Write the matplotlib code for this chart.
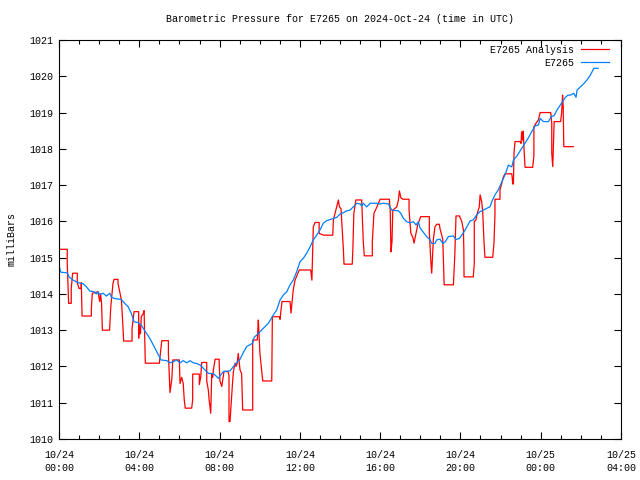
import numpy as np
import matplotlib
matplotlib.use("Agg")
from matplotlib import pyplot as plt
from matplotlib.ticker import MultipleLocator

plt.rcParams['font.family'] = ['Liberation Mono', 'DejaVu Sans Mono']
plt.rcParams['font.size'] = 7.2

# hours since 2024-10-24 00:00 UTC, pressure in mb
obs_t = [0.00, 0.08, 0.41, 0.50, 0.70, 0.95, 1.20, 1.36, 1.53, 1.74, 1.86, 1.94, 2.03, 2.19,
         2.36, 2.53, 2.61, 2.78, 3.10, 3.27, 3.44, 3.60, 3.74, 3.94, 4.10, 4.30, 4.52, 4.70,
         4.87, 5.00, 5.08, 5.37, 5.53, 5.70, 5.86, 6.03, 6.19, 6.36, 6.53, 6.69, 6.86, 7.03,
         7.19, 7.44, 7.69, 7.86, 7.94, 8.02, 8.19, 8.52, 8.68, 8.85, 9.02, 9.18, 9.35, 9.65,
         9.72, 9.93, 10.18, 10.43, 10.68, 10.85, 11.01, 11.18, 11.35, 11.51, 11.67, 11.84,
         12.01, 12.17, 12.34, 12.51, 12.67, 12.84, 13.00, 13.17, 13.34, 13.67, 13.84, 14.00,
         14.17, 14.33, 14.50, 14.66, 14.84, 15.00, 15.08, 15.16, 15.33, 15.50, 15.83, 16.00,
         16.16, 16.41, 16.58, 16.91, 17.03, 17.16, 17.33, 17.49, 17.66, 17.79, 17.90, 17.99,
         18.15, 18.32, 18.49, 18.57, 18.73, 18.82, 18.98, 19.12, 19.23, 19.40, 19.65, 19.78,
         19.95, 20.07, 20.23, 20.48, 20.64, 20.81, 20.98, 21.14, 21.31, 21.47, 21.56, 21.72,
         21.89, 22.06, 22.22, 22.39, 22.56, 22.64, 22.81, 23.04, 23.21, 23.38, 23.55, 23.72,
         23.89, 23.97, 24.14, 24.39, 24.52, 24.66, 24.81, 24.98, 25.15, 25.23, 25.36, 25.48,
         25.65, 25.76, 25.81, 25.98, 26.15, 26.31, 26.48, 26.65, 26.86]
obs_p = [1014.80, 1014.60, 1014.58, 1014.47, 1014.38, 1014.31, 1014.28, 1014.20, 1014.08,
         1014.06, 1014.00, 1014.06, 1013.98, 1014.02, 1013.94, 1014.02, 1013.91, 1013.87,
         1013.85, 1013.74, 1013.65, 1013.47, 1013.23, 1013.21, 1013.14, 1012.96, 1012.78,
         1012.59, 1012.41, 1012.27, 1012.18, 1012.16, 1012.10, 1012.13, 1012.18, 1012.10,
         1012.16, 1012.10, 1012.16, 1012.10, 1012.08, 1012.04, 1011.95, 1011.81, 1011.80,
         1011.72, 1011.67, 1011.74, 1011.86, 1011.88, 1011.99, 1012.10, 1012.20, 1012.38,
         1012.55, 1012.64, 1012.80, 1012.91, 1013.05, 1013.19, 1013.42, 1013.56, 1013.83,
         1013.97, 1014.06, 1014.25, 1014.38, 1014.61, 1014.89, 1014.98, 1015.12, 1015.30,
         1015.49, 1015.62, 1015.76, 1015.95, 1016.02, 1016.08, 1016.11, 1016.20, 1016.24,
         1016.29, 1016.31, 1016.40, 1016.50, 1016.48, 1016.42, 1016.50, 1016.40, 1016.50,
         1016.50, 1016.48, 1016.50, 1016.48, 1016.31, 1016.29, 1016.22, 1016.08, 1015.99,
         1015.96, 1015.99, 1015.90, 1015.99, 1015.82, 1015.70, 1015.58, 1015.49, 1015.39,
         1015.39, 1015.49, 1015.51, 1015.39, 1015.43, 1015.58, 1015.60, 1015.50, 1015.53,
         1015.62, 1015.76, 1016.01, 1016.04, 1016.18, 1016.27, 1016.31, 1016.36, 1016.40,
         1016.54, 1016.73, 1016.87, 1017.09, 1017.28, 1017.55, 1017.50, 1017.69, 1017.80,
         1018.00, 1018.15, 1018.30, 1018.47, 1018.63, 1018.66, 1018.84, 1018.75, 1018.75,
         1018.89, 1018.91, 1019.07, 1019.21, 1019.35, 1019.42, 1019.48, 1019.48, 1019.53,
         1019.42, 1019.62, 1019.71, 1019.80, 1019.90, 1020.04, 1020.22, 1020.22]

ana_t = [0.00, 0.41, 0.41, 0.48, 0.61, 0.61, 0.68, 0.91, 0.91, 1.00, 1.11, 1.11, 1.15, 1.61,
         1.61, 1.66, 1.94, 2.03, 2.07, 2.12, 2.16, 2.52, 2.58, 2.69, 2.74, 2.94, 2.94, 3.11,
         3.19, 3.22, 3.64, 3.64, 3.74, 3.97, 3.97, 4.00, 4.06, 4.10, 4.19, 4.24, 4.30, 5.00,
         5.12, 5.45, 5.45, 5.50, 5.53, 5.62, 5.67, 6.00, 6.00, 6.03, 6.11, 6.19, 6.24, 6.29,
         6.61, 6.66, 6.66, 6.99, 6.99, 7.06, 7.11, 7.36, 7.36, 7.44, 7.48, 7.56, 7.61, 7.66,
         7.69, 7.78, 7.98, 7.98, 8.02, 8.11, 8.22, 8.42, 8.47, 8.47, 8.52, 8.64, 8.69, 8.77,
         8.82, 8.88, 8.93, 9.02, 9.10, 9.15, 9.65, 9.65, 9.88, 9.93, 9.96, 10.01, 10.15,
         10.60, 10.63, 11.01, 11.01, 11.11, 11.51, 11.56, 11.67, 11.76, 11.97, 12.54, 12.60,
         12.67, 12.76, 12.96, 12.96, 13.17, 13.64, 13.67, 13.92, 13.97, 14.05, 14.17, 14.20,
         14.61, 14.64, 14.69, 14.79, 15.08, 15.16, 15.21, 15.61, 15.61, 15.69, 15.84, 16.00,
         16.46, 16.50, 16.54, 16.59, 16.63, 16.83, 16.91, 16.96, 17.03, 17.13, 17.44, 17.44,
         17.53, 17.63, 17.69, 17.79, 17.87, 18.02, 18.45, 18.45, 18.52, 18.57, 18.65, 18.73,
         18.82, 18.95, 18.98, 19.03, 19.12, 19.15, 19.19, 19.65, 19.72, 19.77, 19.78, 19.95,
         20.07, 20.15, 20.17, 20.18, 20.64, 20.69, 20.69, 20.77, 20.84, 20.94, 20.98, 21.06,
         21.11, 21.17, 21.22, 21.61, 21.67, 21.72, 21.72, 21.97, 21.97, 22.06, 22.14, 22.22,
         22.56, 22.61, 22.64, 22.67, 22.72, 22.97, 23.02, 23.05, 23.10, 23.13, 23.17, 23.22,
         23.60, 23.66, 23.66, 23.76, 23.88, 23.97, 24.50, 24.55, 24.55, 24.60, 24.62, 24.67,
         24.99, 25.04, 25.09, 25.12, 25.15, 25.62]
ana_p = [1015.23, 1015.23, 1014.86, 1013.74, 1013.74, 1014.15, 1014.57, 1014.57, 1014.31,
         1014.15, 1014.15, 1014.31, 1013.39, 1013.39, 1013.58, 1014.02, 1014.06, 1013.79,
         1014.00, 1013.75, 1013.00, 1013.00, 1013.65, 1014.29, 1014.40, 1014.40, 1014.29,
         1013.83, 1013.05, 1012.70, 1012.70, 1013.05, 1013.51, 1013.51, 1012.78, 1013.14,
         1012.90, 1013.37, 1013.45, 1013.54, 1012.09, 1012.09, 1012.71, 1012.71, 1012.36,
         1011.70, 1011.28, 1011.65, 1012.18, 1012.18, 1012.09, 1011.53, 1011.70, 1011.53,
         1011.08, 1010.85, 1010.85, 1011.08, 1011.79, 1011.79, 1011.50, 1011.70, 1012.11,
         1012.11, 1011.60, 1011.35, 1011.08, 1010.71, 1011.80, 1011.70, 1011.90, 1012.20,
         1012.20, 1012.09, 1011.60, 1011.45, 1011.86, 1011.86, 1011.75, 1010.48, 1010.48,
         1011.50, 1011.86, 1012.09, 1012.00, 1012.09, 1012.36, 1011.90, 1011.80, 1010.80,
         1010.80, 1012.73, 1012.73, 1013.28, 1012.96, 1012.36, 1011.60, 1011.60, 1013.37,
         1013.37, 1013.30, 1013.79, 1013.79, 1013.47, 1014.11, 1014.38, 1014.66, 1014.66,
         1014.38, 1015.85, 1015.97, 1015.97, 1015.67, 1015.62, 1015.62, 1016.04, 1016.59,
         1016.40, 1016.35, 1015.21, 1014.82, 1014.82, 1015.21, 1016.22, 1016.59, 1016.59,
         1015.44, 1015.05, 1015.05, 1015.44, 1016.22, 1016.40, 1016.61, 1016.61, 1016.31,
         1015.16, 1015.44, 1016.31, 1016.40, 1016.59, 1016.84, 1016.65, 1016.61, 1016.61,
         1016.31, 1015.67, 1015.56, 1015.40, 1015.67, 1015.90, 1016.13, 1016.13, 1015.72,
         1014.94, 1014.57, 1015.49, 1015.85, 1015.92, 1015.92, 1015.80, 1015.70, 1015.50,
         1015.00, 1014.25, 1014.25, 1015.07, 1015.95, 1016.15, 1016.15, 1015.99, 1015.76,
         1015.21, 1014.47, 1014.47, 1014.84, 1015.99, 1016.04, 1016.22, 1016.40, 1016.73,
         1016.54, 1016.27, 1015.49, 1015.01, 1015.01, 1015.39, 1016.18, 1016.61, 1016.61,
         1016.87, 1017.05, 1017.23, 1017.31, 1017.31, 1017.03, 1017.03, 1017.89, 1018.20,
         1018.20, 1018.15, 1018.47, 1018.24, 1018.49, 1017.97, 1017.49, 1017.49, 1017.80,
         1018.61, 1018.70, 1018.79, 1019.00, 1019.00, 1018.70, 1017.88, 1017.51, 1017.88,
         1018.75, 1018.75, 1018.98, 1019.48, 1019.16, 1018.06, 1018.06]

tick_hours = [0, 4, 8, 12, 16, 20, 24, 28]
tick_labels = ["10/24\n00:00", "10/24\n04:00", "10/24\n08:00", "10/24\n12:00",
               "10/24\n16:00", "10/24\n20:00", "10/25\n00:00", "10/25\n04:00"]

fig = plt.figure(figsize=(6.4, 4.8), dpi=100)
ax = fig.add_axes([59/640, 1 - 439/480, (621 - 59)/640, (439 - 40)/480])

ax.plot(ana_t, ana_p, color="#ff0000", lw=0.9, label="E7265 Analysis")
ax.plot(obs_t, obs_p, color="#0080ff", lw=0.9, label="E7265")

ax.set_xlim(0, 28)
ax.set_ylim(1010, 1021)
ax.set_xticks(tick_hours)
ax.set_xticklabels(tick_labels, linespacing=1.35)
ax.xaxis.set_minor_locator(MultipleLocator(1))
ax.set_yticks(range(1010, 1022))
ax.tick_params(which="both", direction="in", top=True, right=True, width=0.8)
ax.tick_params(which="major", length=5, pad=4)
ax.tick_params(axis="x", which="major", pad=8)
ax.tick_params(which="minor", length=3)
for s in ax.spines.values():
    s.set_linewidth(0.8)

ax.set_title("Barometric Pressure for E7265 on 2024-Oct-24 (time in UTC)",
             fontsize=7.2, pad=13)
ax.set_ylabel("milliBars", labelpad=9)

ax.legend(loc="upper right", bbox_to_anchor=(1 - 12/562, 1 - 5/399), frameon=False,
          markerfirst=False, handlelength=2.8, handletextpad=0.7, labelspacing=0.3,
          borderaxespad=0, borderpad=0)

fig.savefig("out.png", dpi=100)
